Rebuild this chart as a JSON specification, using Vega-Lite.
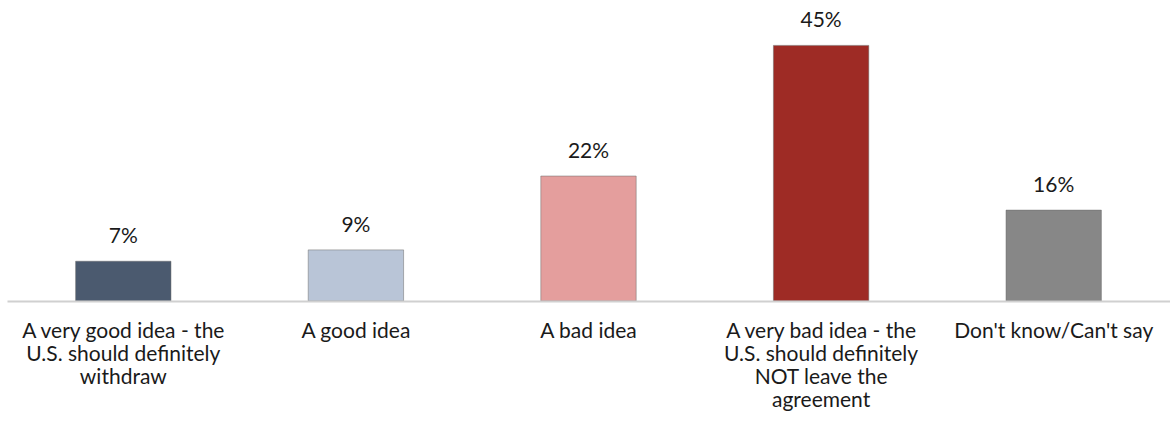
{
  "$schema": "https://vega.github.io/schema/vega-lite/v6.json",
  "autosize": {"type": "none"},
  "padding": {"left": 7, "top": 17, "right": 0, "bottom": 131},
  "width": 1163,
  "height": 284,
  "background": "white",
  "config": {
    "view": {"stroke": null},
    "font": "Lato"
  },
  "data": {
    "values": [
      {"answer": "A very good idea - the|U.S. should definitely|withdraw", "share": 0.07, "color": "#4B5A6F"},
      {"answer": "A good idea", "share": 0.09, "color": "#B9C5D7"},
      {"answer": "A bad idea", "share": 0.22, "color": "#E49E9D"},
      {"answer": "A very bad idea - the|U.S. should definitely|NOT leave the|agreement", "share": 0.45, "color": "#9E2B25"},
      {"answer": "Don't know/Can't say", "share": 0.16, "color": "#878787"}
    ]
  },
  "encoding": {
    "x": {
      "field": "answer",
      "type": "nominal",
      "sort": null,
      "scale": {"paddingInner": 0.59, "paddingOuter": 0.295},
      "axis": {
        "title": null,
        "labelAngle": 0,
        "ticks": false,
        "labelPadding": 19,
        "labelFontSize": 21,
        "labelColor": "#1a1a1a",
        "labelLineHeight": 23,
        "labelLimit": 0,
        "labelExpr": "split(datum.label, '|')",
        "domainColor": "#D0D0D0",
        "domainWidth": 2,
        "zindex": 1
      }
    },
    "y": {
      "field": "share",
      "type": "quantitative",
      "scale": {"domain": [0, 0.5]},
      "axis": null
    }
  },
  "layer": [
    {
      "mark": {"type": "bar", "strokeWidth": 1},
      "encoding": {
        "color": {"field": "color", "type": "nominal", "scale": null},
        "stroke": {"value": "#6b6b6b"},
        "strokeOpacity": {"value": 0.5}
      }
    },
    {
      "mark": {"type": "text", "dy": -18, "baseline": "alphabetic", "fontSize": 21, "color": "#1a1a1a"},
      "encoding": {
        "text": {"field": "share", "type": "quantitative", "format": ".0%"}
      }
    }
  ]
}
